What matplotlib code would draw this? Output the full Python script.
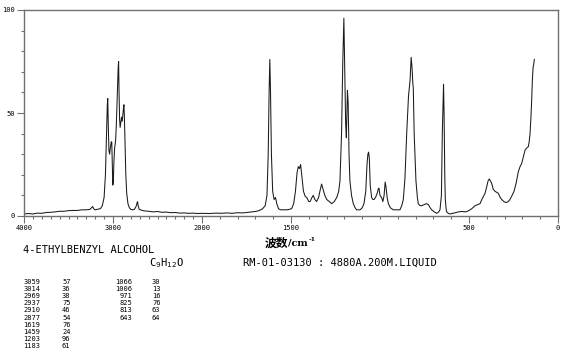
import numpy as np
import matplotlib
matplotlib.use("Agg")
import matplotlib.pyplot as plt

# ---- data ----
wavenumber = [
    4000, 3950, 3900, 3850, 3800, 3750, 3700, 3650, 3600, 3550, 3500, 3450, 3400, 3350,
    3300, 3260, 3235, 3228, 3215, 3200, 3170, 3140, 3120, 3100, 3085, 3072, 3064, 3059,
    3054, 3046, 3038, 3030, 3020, 3014, 3008, 3002, 2996, 2990, 2982, 2975, 2969, 2962,
    2955, 2948, 2942, 2937, 2932, 2926, 2920, 2914, 2910, 2904, 2896, 2888, 2881, 2877,
    2872, 2865, 2856, 2846, 2832, 2816, 2800, 2780, 2760, 2742, 2732, 2725, 2716, 2705,
    2680, 2650, 2600, 2550, 2500, 2450, 2400, 2350, 2300, 2250, 2200, 2150, 2100, 2050,
    2000, 1960, 1920, 1890, 1860, 1830, 1800, 1770, 1740, 1720, 1700, 1680, 1660, 1645,
    1635, 1628, 1623, 1619, 1615, 1610, 1603, 1595, 1587, 1580, 1570, 1558, 1540, 1524,
    1510, 1496, 1485, 1475, 1466, 1459, 1452, 1446, 1440, 1430, 1420, 1412, 1400, 1393,
    1382, 1375, 1366, 1356, 1345, 1335, 1328, 1320, 1310, 1299, 1285, 1271, 1257, 1243,
    1232, 1225, 1216, 1209, 1203, 1198, 1193, 1189, 1186, 1183, 1179, 1174, 1169, 1160,
    1150, 1140, 1131, 1120, 1112, 1100, 1090, 1080, 1073, 1068, 1064, 1060, 1055, 1047,
    1040, 1034, 1025, 1016, 1010, 1006, 1000, 991, 984, 977, 971, 966, 960, 953,
    942, 925, 905, 888, 878, 869, 860, 850, 840, 831, 825, 820, 816, 813,
    808, 798, 790, 785, 775, 766, 752, 740, 728, 718, 710, 695, 681, 670,
    663, 655, 650, 646, 643, 640, 636, 633, 628, 625, 615, 607, 590, 575,
    560, 540, 520, 504, 485, 466, 452, 438, 428, 419, 410, 401, 393, 386,
    380, 373, 364, 354, 345, 335, 325, 316, 304, 292, 280, 270, 258, 247,
    235, 223, 213, 204, 194, 185, 176, 167, 162, 157, 152, 148, 144, 140,
    136, 133,
]
intensity = [
    1.0, 1.2, 1.0, 1.4, 1.3, 1.7, 1.8, 2.0, 2.3, 2.3, 2.6, 2.7, 2.7, 3.0,
    3.0, 3.2, 4.3, 4.6, 3.4, 3.0, 3.3, 3.6, 5.0, 9.0, 20.0, 40.0, 54.0, 57.0,
    46.0, 32.0, 30.0, 33.0, 36.0, 36.0, 25.0, 15.0, 17.0, 26.0, 33.0, 35.0, 38.0, 45.0,
    55.0, 65.0, 72.0, 75.0, 60.0, 47.0, 43.0, 45.0, 46.0, 48.0, 46.0, 50.0, 53.0, 54.0,
    48.0, 36.0, 20.0, 11.0, 6.0, 4.0, 3.2, 3.0, 3.2, 4.5, 6.0, 7.0, 4.8, 3.2,
    2.8, 2.5, 2.3, 2.0, 2.2, 1.8, 1.9, 1.6, 1.7, 1.4, 1.5, 1.3, 1.4, 1.2,
    1.3, 1.2, 1.4, 1.3, 1.5, 1.3, 1.6, 1.5, 1.8, 2.0, 2.2, 2.6, 3.5, 5.0,
    10.0, 30.0, 60.0, 76.0, 60.0, 30.0, 12.0, 8.0, 9.0, 6.0, 3.5, 3.0, 3.0, 3.0,
    3.2, 3.6, 6.0, 12.0, 21.0, 24.0, 23.0, 25.0, 20.0, 12.0, 9.5, 9.0, 7.0, 7.0,
    9.0, 10.0, 8.0, 7.0, 9.0, 13.0, 15.5, 13.0, 10.0, 8.0, 7.0, 6.0, 7.0, 9.0,
    12.0, 17.0, 40.0, 75.0, 96.0, 70.0, 45.0, 38.0, 50.0, 61.0, 55.0, 30.0, 17.0, 10.0,
    6.0, 4.0, 3.0, 3.0, 3.0, 4.0, 6.0, 12.0, 25.0, 30.0, 31.0, 28.0, 15.0, 9.0,
    8.0, 8.0, 9.0, 11.0, 13.0, 13.5, 10.0, 9.0, 7.0, 10.0, 16.5, 14.0, 9.0, 6.0,
    4.0, 3.0, 3.0, 3.0, 5.0, 8.0, 18.0, 40.0, 58.0, 66.0, 77.0, 72.0, 65.0, 62.0,
    40.0, 17.0, 9.0, 6.0, 5.0, 5.0, 5.5, 6.0, 5.5, 4.0, 3.0, 2.0, 1.3, 2.0,
    3.0, 10.0, 40.0, 55.0, 64.0, 50.0, 19.0, 8.0, 3.0, 2.0, 1.2, 1.0, 1.3, 1.6,
    2.0, 2.2, 2.0, 2.5, 3.5, 5.0, 5.5, 6.0, 8.0, 9.5, 11.0, 14.0, 17.0, 18.0,
    17.0, 16.0, 13.0, 12.0, 11.5, 11.0, 9.0, 8.0, 7.0, 6.5, 7.0, 8.0, 10.0, 12.0,
    16.0, 21.5, 24.0, 25.5, 29.0, 32.0, 33.0, 33.6, 36.0, 40.0, 48.0, 56.0, 66.0, 72.0,
    74.0, 76.0,
]

y_ticks = [0, 50, 100]
x_tick_values = [4000, 3000, 2000, 1500, 500, 0]

compound_name = "4-ETHYLBENZYL ALCOHOL"
record_info = "RM-01-03130 : 4880A.200M.LIQUID"

peak_wn_1 = [3059, 3014, 2969, 2937, 2910, 2877, 1619, 1459, 1203, 1183]
peak_int_1 = [57, 36, 38, 75, 46, 54, 76, 24, 96, 61]
peak_wn_2 = [1066, 1006, 971, 825, 813, 643]
peak_int_2 = [30, 13, 16, 76, 63, 64]

# ---- broken (two-scale) wavenumber axis: 4000-2000 compressed by half ----
def fwd(w):
    w = np.asarray(w, dtype=float)
    return np.where(w > 2000, 2000 + (w - 2000) * 0.5, w)

def inv(u):
    u = np.asarray(u, dtype=float)
    return np.where(u > 2000, 2000 + (u - 2000) * 2.0, u)

W, H = 570, 357
fig = plt.figure(figsize=(W / 100, H / 100), dpi=100)
ax = fig.add_axes([24 / W, 1 - 216 / H, (558 - 24) / W, (216 - 10) / H])
ax.set_xscale("function", functions=(fwd, inv))

ax.plot(wavenumber, intensity, color="#1a1a1a", lw=0.75)
ax.set_xlim(4000, 0)
ax.set_ylim(0, 100)

spine_c = "#707070"
for s in ax.spines.values():
    s.set_color(spine_c)
    s.set_linewidth(1.0)

ax.set_xticks(x_tick_values)
ax.set_xticklabels([str(v) for v in x_tick_values])
ax.set_xticks(list(range(0, 4001, 100)), minor=True)
ax.set_yticks(y_ticks)
ax.set_yticklabels([str(v) for v in y_ticks])
ax.set_yticks(list(range(0, 101, 10)), minor=True)
ax.tick_params(which="major", direction="out", length=5, width=0.8, color=spine_c,
               labelsize=5, pad=1.5)
ax.tick_params(which="minor", direction="out", length=2.5, width=0.8, color=spine_c)
for lab in ax.get_xticklabels() + ax.get_yticklabels():
    lab.set_family("DejaVu Sans Mono")

# ---- texts below the chart ----
def fx(px):
    return px / W

def fy(py):
    return 1 - py / H

fig.text(fx(265), fy(243), "波数", family=["Noto Sans CJK SC", "DejaVu Sans"],
         fontweight="bold", fontsize=8.5, ha="left", va="center")
t_cm = fig.text(fx(288), fy(243.5), "/cm", family="DejaVu Serif",
                fontweight="bold", fontsize=7, ha="left", va="center")
fig.canvas.draw()
bb = t_cm.get_window_extent()
fig.text((bb.x1 + 1.0) / W, fy(239.5), "-1", family="DejaVu Serif",
         fontweight="bold", fontsize=4.5, ha="left", va="center")
fig.text(fx(23), fy(250), compound_name, family="DejaVu Sans Mono", fontsize=7.5,
         ha="left", va="center")
fig.text(fx(149), fy(263), "C$_{9}$H$_{12}$O", family="DejaVu Sans Mono", fontsize=7.5,
         ha="left", va="center")
fig.text(fx(243), fy(263), record_info, family="DejaVu Sans Mono", fontsize=7.5,
         ha="left", va="center")

row0, dy = 281.5, 7.2
for i, (w, v) in enumerate(zip(peak_wn_1, peak_int_1)):
    y = fy(row0 + i * dy)
    fig.text(fx(40.5), y, str(w), family="DejaVu Sans Mono", fontsize=5, ha="right", va="center")
    fig.text(fx(62), y, str(v), family="DejaVu Sans Mono", fontsize=5, ha="left", va="center")
for i, (w, v) in enumerate(zip(peak_wn_2, peak_int_2)):
    y = fy(row0 + i * dy)
    fig.text(fx(132), y, str(w), family="DejaVu Sans Mono", fontsize=5, ha="right", va="center")
    fig.text(fx(152), y, str(v), family="DejaVu Sans Mono", fontsize=5, ha="left", va="center")

fig.savefig("out.png", dpi=100, facecolor="white")
